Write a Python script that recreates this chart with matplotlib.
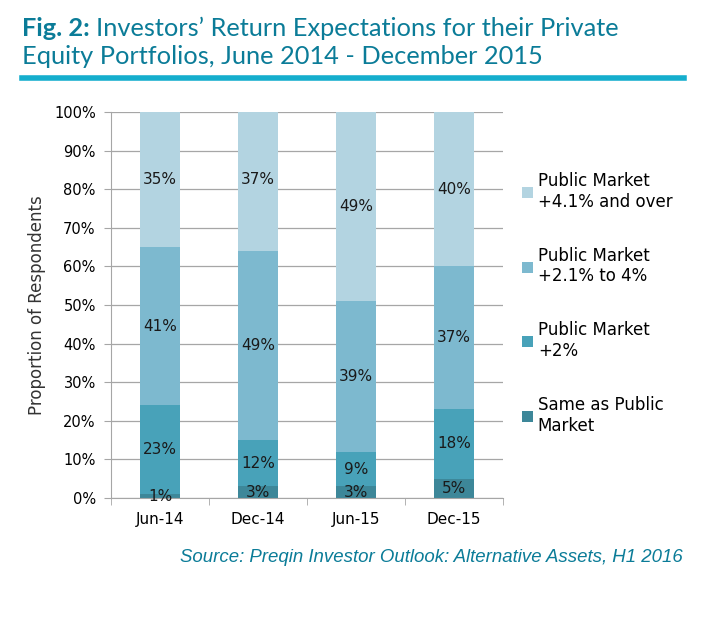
import matplotlib.pyplot as plt
import numpy as np

# data
periods = ['Jun-14', 'Dec-14', 'Jun-15', 'Dec-15']
series_names = ['Same as Public\nMarket', 'Public Market\n+2%',
                'Public Market\n+2.1% to 4%', 'Public Market\n+4.1% and over']
same_as_public = [1, 3, 3, 5]
plus_2 = [23, 12, 9, 18]
plus_2_to_4 = [41, 49, 39, 37]
plus_4_and_over = [35, 37, 49, 40]

colors = ['#3d8799', '#48a2b9', '#7db9cf', '#b3d4e1']
title_color = '#0b7c98'
rule_color = '#15aecd'

plt.rcParams['font.family'] = ['DejaVu Sans']

fig = plt.figure(figsize=(7.03, 6.18), dpi=100)
ax = fig.add_axes([111 / 703, 1 - 498 / 618, 392 / 703, 386 / 618])

x = np.arange(len(periods))
series = [same_as_public, plus_2, plus_2_to_4, plus_4_and_over]
bottom = np.zeros(len(periods))
handles = []
for vals, col, name in zip(series, colors, series_names):
    vals = np.array(vals, dtype=float)
    b = ax.bar(x, vals, bottom=bottom, width=0.4, color=col, label=name, zorder=2)
    handles.append(b)
    for i in range(len(vals)):
        ax.text(x[i], bottom[i] + vals[i] / 2, f'{int(vals[i])}%',
                ha='center', va='center', fontsize=11, color='#1a1a1a', zorder=3)
    bottom += vals

ax.set_xlim(-0.5, 3.5)
ax.set_ylim(0, 100)
ax.set_yticks(range(0, 101, 10))
ax.set_yticklabels([f'{v}%' for v in range(0, 101, 10)], fontsize=10.5)
ax.set_xticks(x)
ax.set_xticklabels(periods, fontsize=11)
ax.set_xticks(np.arange(-0.5, 4.0, 1.0), minor=True)
ax.tick_params(axis='x', which='major', length=0, pad=10)
ax.tick_params(axis='x', which='minor', length=5, color='#a6a6a6')
ax.tick_params(axis='y', length=5, color='#a6a6a6', pad=6)
ax.yaxis.grid(True, color='#a6a6a6', linewidth=0.9, zorder=0)
for s in ['top', 'right']:
    ax.spines[s].set_visible(False)
ax.spines['left'].set_color('#a6a6a6')
ax.spines['bottom'].set_color('#a6a6a6')
ax.set_ylabel('Proportion of Respondents', fontsize=12, color='#333333', labelpad=6)

leg = fig.legend(handles[::-1], series_names[::-1], loc='upper left',
                 bbox_to_anchor=(507 / 703, 1 - 157 / 618), frameon=False,
                 fontsize=12, handlelength=0.65, handleheight=0.65,
                 handletextpad=0.3, labelspacing=2.15)

# title: bold prefix, then the rest placed right after it
fig.canvas.draw()
r = fig.canvas.get_renderer()
prefix = fig.text(22 / 703, 1 - 28 / 618, 'Fig. 2:', fontsize=18.3, fontweight='bold',
                  color=title_color, va='center', family='Lato')
bb = prefix.get_window_extent(renderer=r)
fig.text(bb.x1 / fig.bbox.width + 6 / 703, 1 - 28 / 618,
         "Investors\u2019 Return Expectations for their Private",
         fontsize=18.3, color=title_color, va='center', family='Lato')
fig.text(22 / 703, 1 - 56 / 618, 'Equity Portfolios, June 2014 - December 2015',
         fontsize=18.3, color=title_color, va='center', family='Lato')
fig.add_artist(plt.Line2D([22 / 703, 684 / 703], [1 - 78 / 618, 1 - 78 / 618],
                          color=rule_color, linewidth=4))

fig.text(683 / 703, 1 - 557 / 618,
         'Source: Preqin Investor Outlook: Alternative Assets, H1 2016',
         fontsize=13.4, style='italic', color=title_color, ha='right', va='center',
         family='Liberation Sans')

fig.savefig('out.png', dpi=100)
